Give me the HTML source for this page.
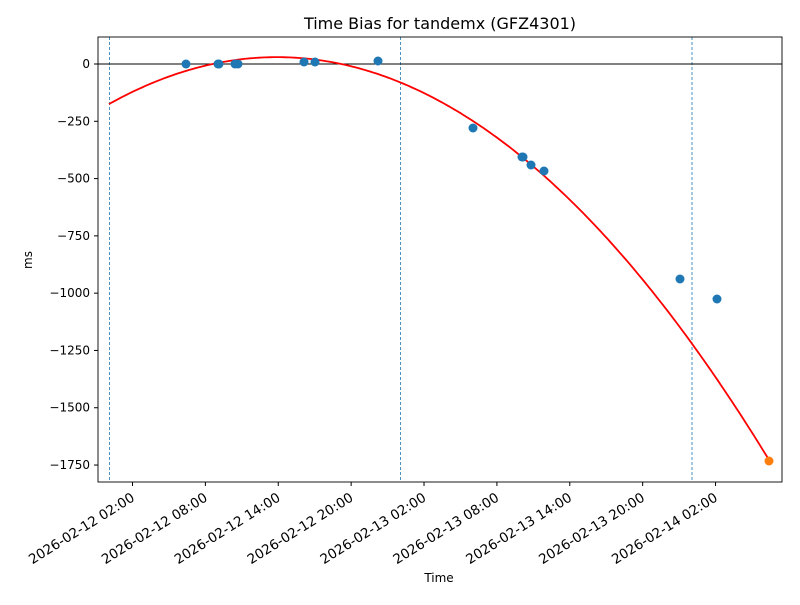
<!DOCTYPE html><html><head><style>body{margin:0;background:#fff}text{font-family:"DejaVu Sans","Liberation Sans",sans-serif;fill:#000}</style></head><body>
<svg width="800" height="600" xmlns="http://www.w3.org/2000/svg">
<rect width="800" height="600" fill="#fff"/>
<text x="440" y="29" font-size="16" text-anchor="middle">Time Bias for tandemx (GFZ4301)</text>
<g stroke="#1f77b4" stroke-width="0.8" stroke-dasharray="3,2">
<line x1="109.5" y1="37" x2="109.5" y2="482"/><line x1="400.5" y1="37" x2="400.5" y2="482"/><line x1="692" y1="37" x2="692" y2="482"/></g>
<line x1="98" y1="64" x2="782" y2="64" stroke="#000" stroke-width="0.9"/>
<polyline id="c" fill="none" stroke="red" stroke-width="1.8" points=""/>
<g fill="#1f77b4">
<circle cx="186" cy="64" r="4.5"/><circle cx="218" cy="64" r="4.5"/><circle cx="219" cy="64" r="4.5"/><circle cx="235" cy="64" r="4.5"/><circle cx="238" cy="64" r="4.5"/><circle cx="304" cy="62" r="4.5"/><circle cx="315" cy="62" r="4.5"/><circle cx="378" cy="61" r="4.5"/><circle cx="473" cy="128" r="4.5"/><circle cx="522" cy="157" r="4.5"/><circle cx="523" cy="157" r="4.5"/><circle cx="531" cy="165" r="4.5"/><circle cx="544" cy="171" r="4.5"/><circle cx="680" cy="279" r="4.5"/><circle cx="717" cy="299" r="4.5"/></g>
<circle cx="769" cy="461" r="4.5" fill="#ff7f0e"/>
<rect x="98" y="37" width="684" height="445" fill="none" stroke="#000" stroke-width="0.9"/>
<g id="yt" font-size="12" text-anchor="end"></g>
<g id="xt" font-size="13.5" text-anchor="end"></g>
<text x="439" y="582" font-size="12" text-anchor="middle">Time</text>
<text transform="translate(32,260) rotate(-90)" font-size="12" text-anchor="middle">ms</text>
</svg>
<script>
var ns="http://www.w3.org/2000/svg",p=[];
for(var x=109;x<=769;x+=3){var v=-0.00726*(x-277)*(x-277)+30;p.push(x+","+(64-v*0.2292).toFixed(1));}
p.push("769,461");document.getElementById("c").setAttribute("points",p.join(" "));
var yt=document.getElementById("yt");
for(var k=0;k<=7;k++){var y=64+57.29*k;var l=document.createElementNS(ns,"line");l.setAttribute("x1",94);l.setAttribute("x2",98);l.setAttribute("y1",y);l.setAttribute("y2",y);l.setAttribute("stroke","#000");yt.appendChild(l);
var t=document.createElementNS(ns,"text");t.setAttribute("x",90);t.setAttribute("y",y+4);t.textContent=k?"\u2212"+(250*k):"0";yt.appendChild(t);}
var xt=document.getElementById("xt"),labs=["2026-02-12 02:00","2026-02-12 08:00","2026-02-12 14:00","2026-02-12 20:00","2026-02-13 02:00","2026-02-13 08:00","2026-02-13 14:00","2026-02-13 20:00","2026-02-14 02:00"];
for(var i=0;i<9;i++){var x=132.5+72.88*i;var l=document.createElementNS(ns,"line");l.setAttribute("x1",x);l.setAttribute("x2",x);l.setAttribute("y1",482);l.setAttribute("y2",486);l.setAttribute("stroke","#000");xt.appendChild(l);
var t=document.createElementNS(ns,"text");t.setAttribute("transform","translate("+(x+3)+",500) rotate(-32)");t.textContent=labs[i];xt.appendChild(t);}
</script>
</body></html>
